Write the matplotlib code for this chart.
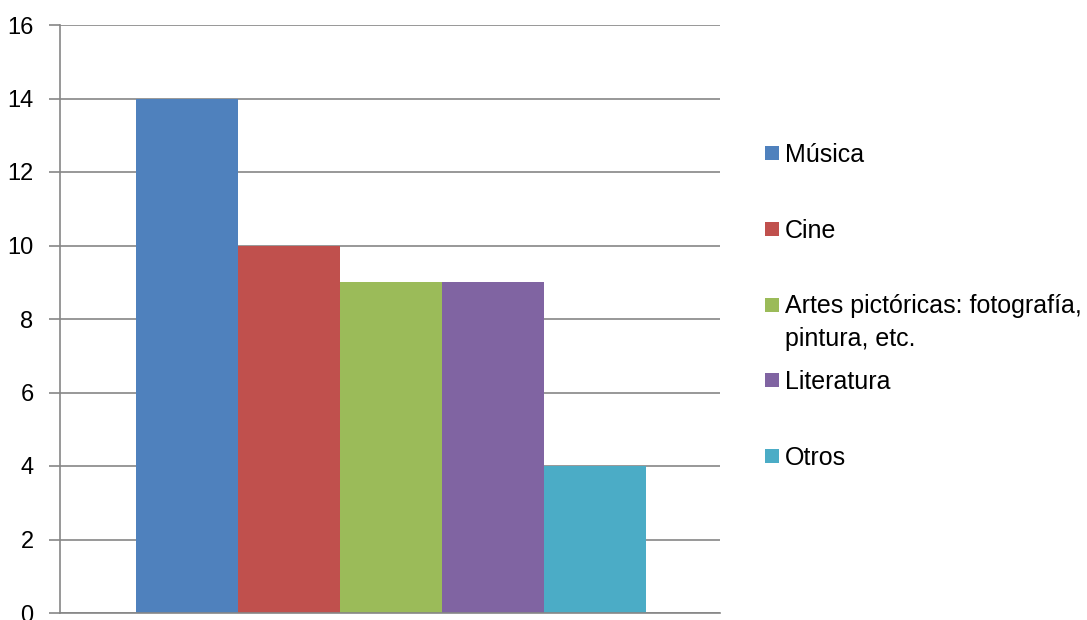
import matplotlib.pyplot as plt
from matplotlib.patches import Rectangle

# data
series = ["Música", "Cine", "Artes pictóricas: fotografía,\npintura, etc.", "Literatura", "Otros"]
values = [14, 10, 9, 9, 4]
colors = ["#4F81BD", "#C0504D", "#9BBB59", "#8064A2", "#4BACC6"]
yticks = [0, 2, 4, 6, 8, 10, 12, 14, 16]

plt.rcParams['font.family'] = ['Liberation Sans', 'DejaVu Sans']

W, H = 1087, 620
fig = plt.figure(figsize=(W / 100, H / 100), dpi=100)
ax = fig.add_axes([60 / W, 7 / H, 660 / W, 588 / H])

positions = list(range(len(values)))
ax.bar(positions, values, width=1.0, color=colors, zorder=2)

ax.set_xlim(-1.245, 5.225)
ax.set_ylim(0, 16)
ax.set_yticks(yticks)
ax.set_xticks([])
ax.yaxis.grid(True, color="#868686", linewidth=1.2, zorder=0)
ax.set_axisbelow(True)

for side in ["top", "right"]:
    ax.spines[side].set_visible(False)
ax.spines["left"].set_color("#868686")
ax.spines["bottom"].set_color("#868686")
ax.spines["left"].set_linewidth(1.2)
ax.spines["bottom"].set_linewidth(1.2)
ax.tick_params(axis="y", direction="out", length=8, width=1.2, color="#868686",
               labelsize=17, pad=11)

# legend: one slot per series, box lined up with the first line of the label
for i, (name, c) in enumerate(zip(series, colors)):
    yc = 153 + i * 75.75
    fig.add_artist(Rectangle((765 / W, 1 - (yc + 7) / H), 14 / W, 14 / H,
                             facecolor=c, transform=fig.transFigure))
    fig.text(785 / W, 1 - (yc - 10) / H, name, fontsize=18, va="top",
             ha="left", linespacing=1.45)

fig.savefig("out.png", dpi=100)
